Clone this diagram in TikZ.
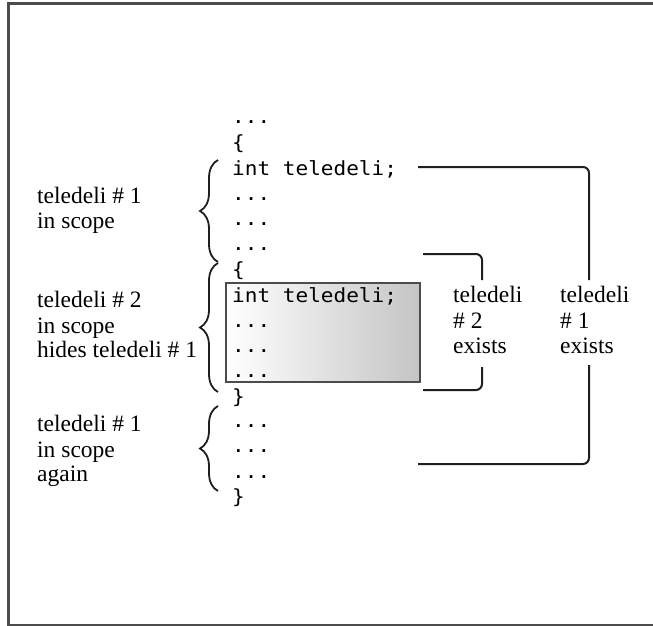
\documentclass[tikz,border=0pt]{standalone}
\usepackage{fontspec}
\setmainfont{Liberation Serif}
\newfontfamily\codefont[FakeStretch=1.08]{DejaVu Sans Mono}
\usetikzlibrary{decorations.pathreplacing}
\begin{document}
\begin{tikzpicture}[x=1pt,y=-1pt,
 code/.style={anchor=base west,inner sep=0pt,font=\codefont\fontsize{19.5}{22}\selectfont},
 lbl/.style={anchor=base west,inner sep=0pt,font=\fontsize{23.5}{25}\selectfont},
 conn/.style={line width=2pt,draw=black!88,rounded corners=6pt},
 curly/.style={line width=1.8pt,draw=black!88,decorate,decoration={brace,amplitude=18pt,aspect=0.5}},
 frame/.style={draw=black!70,line width=2.7pt},
 hbox/.style={draw=black!70,line width=2.5pt,left color=white,right color=black!23,minimum width=194pt,minimum height=99pt,inner sep=0pt}]
\useasboundingbox (0,0) rectangle (653,626);
\clip (0,0) rectangle (653,626);
\draw[frame] (8.7,3.8) rectangle (680,625.5);
% highlighted block
\node[hbox] (box) at (323,332.5) {};
% code lines
\node[code] (c1) at (232,123) {...};
\node[code] (c2) at (232,149) {\{};
\node[code] (c3) at (232,175) {int teledeli;};
\node[code] (c4) at (232,200) {...};
\node[code] (c5) at (232,225) {...};
\node[code] (c6) at (232,250) {...};
\node[code] (c7) at (232,276) {\{};
\node[code] (c8) at (232,302) {int teledeli;};
\node[code] (c9) at (232,327) {...};
\node[code] (c10) at (232,352) {...};
\node[code] (c11) at (232,377) {...};
\node[code] (c12) at (232,403) {\}};
\node[code] (c13) at (232,427) {...};
\node[code] (c14) at (232,452) {...};
\node[code] (c15) at (232,478) {...};
\node[code] (c16) at (232,503) {\}};
% left labels
\node[lbl] (l1a) at (37,203) {teledeli \# 1};
\node[lbl] (l1b) at (37,228) {in scope};
\node[lbl] (l2a) at (37,307) {teledeli \# 2};
\node[lbl] (l2b) at (37,333) {in scope};
\node[lbl] (l2c) at (37,357) {hides teledeli \# 1};
\node[lbl] (l3a) at (37,431) {teledeli \# 1};
\node[lbl] (l3b) at (37,457) {in scope};
\node[lbl] (l3c) at (37,481) {again};
% right labels
\node[lbl] (r2a) at (453,302) {teledeli};
\node[lbl] (r2b) at (453,328) {\# 2};
\node[lbl] (r2c) at (453,353) {exists};
\node[lbl] (r1a) at (560,302) {teledeli};
\node[lbl] (r1b) at (560,328) {\# 1};
\node[lbl] (r1c) at (560,353) {exists};
% braces
\coordinate (b1t) at (218,160);
\coordinate (b1b) at (218,262);
\coordinate (b2t) at (218,263);
\coordinate (b2b) at (218,392);
\coordinate (b3t) at (218,406);
\coordinate (b3b) at (218,491);
\draw[curly] (b1b) -- (b1t);
\draw[curly] (b2b) -- (b2t);
\draw[curly] (b3b) -- (b3t);
% connectors
\coordinate (o1s) at (418,167);
\coordinate (o1e) at (589,280);
\coordinate (o2s) at (418,464);
\coordinate (o2e) at (589,365);
\coordinate (i1s) at (423,254);
\coordinate (i1e) at (482,280);
\coordinate (i2s) at (423,390);
\coordinate (i2e) at (482,367);
\draw[conn] (o1s) -| (o1e);
\draw[conn] (o2s) -| (o2e);
\draw[conn] (i1s) -| (i1e);
\draw[conn] (i2s) -| (i2e);
\end{tikzpicture}
\end{document}
